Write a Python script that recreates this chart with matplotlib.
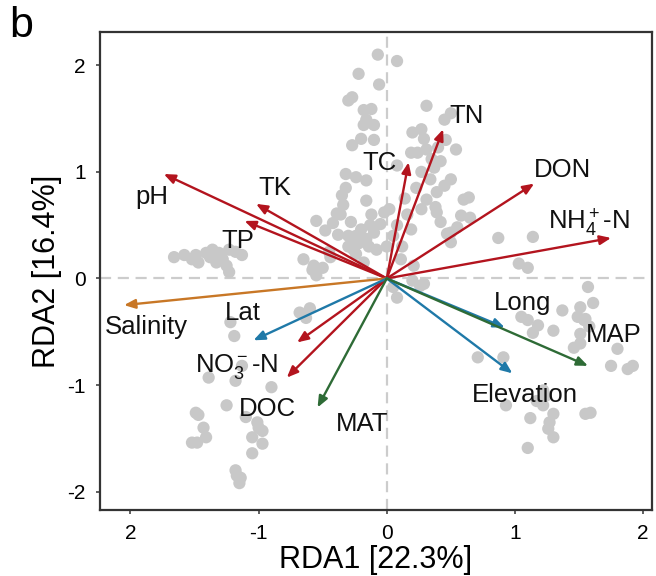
import matplotlib
matplotlib.use("Agg")
import matplotlib.pyplot as plt
import numpy as np

plt.rcParams['font.family'] = ['Liberation Sans', 'DejaVu Sans']
plt.rcParams['mathtext.fontset'] = 'custom'
plt.rcParams['mathtext.rm'] = 'Liberation Sans'
plt.rcParams['mathtext.it'] = 'Liberation Sans:italic'
plt.rcParams['mathtext.default'] = 'regular'

# ---- site scores (RDA1, RDA2) ----
site_x = [-0.07, 0.08, -0.22, -0.06, -0.30, -0.27, -0.18, -0.12, -0.16, -0.10, -0.18, -0.20, -0.10,
          0.31, 0.45, 0.50, 0.20, 0.27, 0.29, 0.31, 0.19, 0.24, 0.54, 0.08, 0.37, 0.27,
          -0.32, -0.24, -0.16, -0.32, 0.50, 0.45, 0.39, 0.60, 0.31, -0.16, -0.34, -0.36, -0.55,
          -0.28, -0.20, -0.13, -0.05, -0.38, -0.24, -0.16, -0.10, 0.39, 0.42, 0.58, 0.27, 0.08,
          0.05, 0.19, -0.26, -0.08, -0.65, -0.57, -0.18, 0.11, 0.21, 0.50, 0.50, 0.55, 0.47,
          0.40, 0.38, 0.87, 1.14, 1.03, 1.10, 0.64, 0.65, -0.39, -0.27, -0.24, -0.30, -0.45,
          -1.66, -1.58, -1.49, -1.41, -1.36, -1.31, -1.23, -1.13, -1.33, -1.25, -1.47, -1.23,
          -0.58, -0.55, -0.68, -0.63, -0.60, -1.22, -1.19, -1.13, -1.39, -1.18, -0.90, -1.49,
          -1.25, -1.01, -0.97, -1.43, -1.41, -1.52, -1.48, -1.05, -0.97, -1.05, -1.18, -1.14,
          -1.15, -1.17, 0.05, 0.08, 0.20, 0.26, 0.29, 1.57, 1.61, 1.51, 1.37, 1.10, 1.18, 1.14,
          1.30, 1.54, 1.51, 1.46, 1.51, 1.80, 1.75, 1.88, 1.92, 0.71, 0.91, 0.93, 1.22, 1.22,
          1.30, 1.12, 1.26, 1.30, 1.55, 1.59, 1.10, 1.24, 1.55, -0.02, -0.44, -0.50,
          -0.14, -0.22, -0.30, -0.12, 0.02, 0.14, 0.34, 0.42, 0.23, 0.16, -0.42, -0.48,
          -0.35, -0.27, 0.00, 0.12, 0.35, 0.46, -1.52, -1.38, -1.28, -1.18, 1.58, 1.49,
          1.05, 1.17, 1.27, -1.10, -1.00, -1.47]
site_y = [2.10, 2.04, 1.92, 1.82, 1.67, 1.70, 1.58, 1.59, 1.49, 1.44, 1.44, 1.31, 1.30,
          1.62, 1.49, 1.55, 1.37, 1.40, 1.31, 1.21, 1.18, 1.18, 1.21, 1.06, 1.04, 1.00,
          0.98, 0.95, 0.92, 0.85, 0.93, 0.87, 0.81, 0.74, 0.74, 0.73, 0.69, 0.60, 0.54,
          0.53, 0.46, 0.50, 0.51, 0.41, 0.40, 0.37, 0.43, 0.62, 0.53, 0.59, 0.65, 0.50,
          0.40, 0.46, 0.27, 0.27, 0.18, 0.12, 0.15, 0.18, 0.12, 0.43, 0.34, 0.48, 0.42,
          1.23, 0.67, 0.38, 0.39, 0.14, 0.10, 0.76, 0.57, 0.61, 0.38, 0.23, 0.30, 0.25,
          0.20, 0.22, 0.22, 0.24, 0.27, 0.24, 0.27, 0.22, 0.15, 0.12, 0.15, 0.06,
          0.08, 0.03, -0.32, -0.37, -0.28, -0.41, -0.54, -0.82, -0.93, -0.96, -1.02, -1.26,
          -1.19, -1.35, -1.43, -1.40, -1.49, -1.54, -1.54, -1.49, -1.55, -1.64, -1.80, -1.87,
          -1.92, -1.85, -0.08, -0.18, -0.02, -0.07, -0.05, -0.08, -0.23, -0.27, -0.30, -0.39, -0.44, -0.51,
          -0.49, -0.39, -0.52, -0.65, -0.61, -0.66, -0.82, -0.85, -0.82, -0.74, -0.74, -1.19, -1.05, -1.19,
          -1.27, -1.31, -1.41, -1.49, -1.27, -1.26, -1.59, -1.10, -0.38, 0.62, 0.20, 0.10,
          0.30, 0.33, 0.40, 0.60, 0.65, 0.75, 0.93, 1.10, 0.85, 0.60, 0.52, 0.45,
          0.78, 1.25, 0.30, 0.30, 1.12, 1.30, 0.18, 0.20, 0.18, 0.25, -0.45, -0.36,
          -0.36, -1.15, -1.35, -1.30, -1.40, -1.28]

# ---- environmental vectors ----
env_names = ['pH', 'TK', 'TP', 'TC', 'TN', 'DON', 'NH$_4^+$-N', 'NO$_3^-$-N', 'DOC',
             'Salinity', 'Lat', 'Long', 'Elevation', 'MAT', 'MAP']
env_x = [-1.74, -1.02, -1.11, 0.17, 0.44, 1.15, 1.75, -0.70, -0.78,
         -2.05, -1.04, 0.92, 0.98, -0.54, 1.57]
env_y = [0.98, 0.70, 0.54, 1.09, 1.40, 0.89, 0.38, -0.60, -0.93,
         -0.25, -0.58, -0.46, -0.89, -1.21, -0.82]
env_group = ['soil', 'soil', 'soil', 'soil', 'soil', 'soil', 'soil', 'soil', 'soil',
             'salt', 'geo', 'geo', 'geo', 'climate', 'climate']

# label anchor positions (data units)
label_x = [-1.83, -0.875, -1.16, -0.06, 0.625, 1.375, 1.58, -1.17, -0.93,
           -1.875, -1.125, 1.06, 1.08, -0.19, 1.77]
label_y = [0.76, 0.85, 0.355, 1.08, 1.52, 1.02, 0.52, -0.83, -1.22,
           -0.46, -0.32, -0.23, -1.09, -1.37, -0.53]

group_colors = {'soil': '#b3141e', 'salt': '#c87726', 'geo': '#1f79a8', 'climate': '#2e6b36'}

xtick_vals = [-2, -1, 0, 1, 2]
xtick_labels = ['2', '-1', '0', '1', '2']
ytick_vals = [-2, -1, 0, 1, 2]
ytick_labels = ['-2', '-1', '0', '1', '2']

fig = plt.figure(figsize=(6.56, 5.76), dpi=100)
ax = fig.add_axes([0.152, 0.115, 0.842, 0.829])

ax.axhline(0, color='#cccccc', lw=1.6, ls=(0, (5, 3)), zorder=1)
ax.axvline(0, color='#cccccc', lw=1.6, ls=(0, (5, 3)), zorder=1)

ax.scatter(site_x, site_y, s=78, color='#c8c8c8', edgecolors='none', zorder=2)

for i in range(len(env_names)):
    c = group_colors[env_group[i]]
    ax.annotate('', xy=(env_x[i], env_y[i]), xytext=(0, 0),
                arrowprops=dict(arrowstyle='-|>,head_length=0.6,head_width=0.25',
                                color=c, lw=1.7, shrinkA=0, shrinkB=0,
                                mutation_scale=11),
                zorder=3)
for i in range(len(env_names)):
    ax.text(label_x[i], label_y[i], env_names[i], fontsize=18.5, ha='center', va='center',
            color='#111111', zorder=4)

ax.set_xlim(-2.24, 2.07)
ax.set_ylim(-2.17, 2.31)
ax.set_xticks(xtick_vals)
ax.set_xticklabels(xtick_labels)
ax.set_yticks(ytick_vals)
ax.set_yticklabels(ytick_labels)
ax.tick_params(labelsize=15, length=3, width=1.2, color='#444444', pad=7)

for sp in ax.spines.values():
    sp.set_color('#333333')
    sp.set_linewidth(1.6)

ax.set_xlabel('RDA1 [22.3%]', fontsize=22, labelpad=2)
ax.set_ylabel('RDA2 [16.4%]', fontsize=22, labelpad=4)

fig.text(0.014, 0.99, 'b', fontsize=31, ha='left', va='top')

fig.savefig('out.png', dpi=100)
